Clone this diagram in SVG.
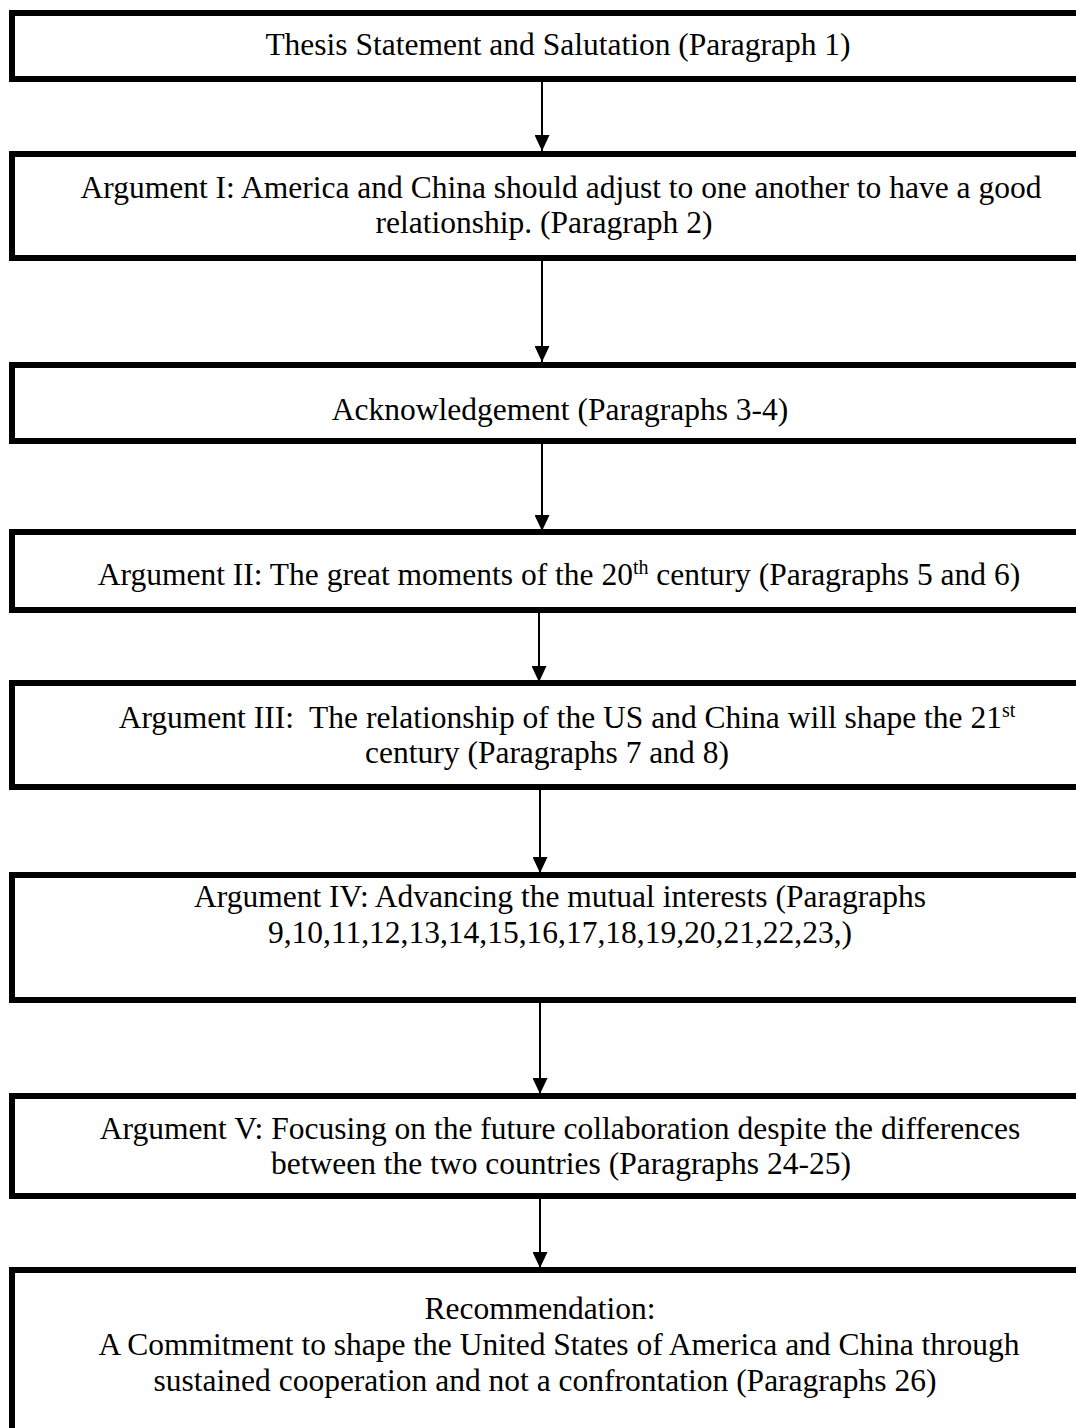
<svg xmlns="http://www.w3.org/2000/svg" width="1076" height="1428" viewBox="0 0 1076 1428">
<style>
.box{fill:#fff;stroke:#000;stroke-width:6}
.t{font-family:"Liberation Serif","Times New Roman",serif;font-size:31.5px;fill:#000;text-anchor:middle;white-space:pre}
.sup{font-size:20px}
.c{stroke:#000;stroke-width:2;fill:none}
</style>
<defs>
<marker id="ah" markerWidth="8" markerHeight="7.5" refX="8" refY="3.75" orient="auto" markerUnits="strokeWidth">
<path d="M0,0 L8,3.75 L0,7.5 Z" fill="#000"/>
</marker>
</defs>
<rect width="1076" height="1428" fill="#fff"/>
<g id="connectors">
<line class="c" x1="542" y1="74" x2="542" y2="151" marker-end="url(#ah)"/>
<line class="c" x1="542" y1="252" x2="542" y2="362" marker-end="url(#ah)"/>
<line class="c" x1="542" y1="436" x2="542" y2="531" marker-end="url(#ah)"/>
<line class="c" x1="539" y1="604" x2="539" y2="682" marker-end="url(#ah)"/>
<line class="c" x1="540" y1="782" x2="540" y2="873" marker-end="url(#ah)"/>
<line class="c" x1="540" y1="995" x2="540" y2="1094" marker-end="url(#ah)"/>
<line class="c" x1="540" y1="1192" x2="540" y2="1268" marker-end="url(#ah)"/>
</g>
<g id="n1"><rect class="box" x="12" y="13" width="1100" height="66"/>
<text class="t" x="558" y="55">Thesis Statement and Salutation (Paragraph 1)</text></g>
<g id="n2"><rect class="box" x="12" y="154" width="1100" height="104"/>
<text class="t" x="561" y="198">Argument I: America and China should adjust to one another to have a good</text>
<text class="t" x="544" y="233">relationship. (Paragraph 2)</text></g>
<g id="n3"><rect class="box" x="12" y="365" width="1100" height="76"/>
<text class="t" x="560" y="420">Acknowledgement (Paragraphs 3-4)</text></g>
<g id="n4"><rect class="box" x="12" y="532" width="1100" height="78"/>
<text class="t" x="559" y="585">Argument II: The great moments of the 20<tspan class="sup" dy="-11">th</tspan><tspan dy="11"> century (Paragraphs 5 and 6)</tspan></text></g>
<g id="n5"><rect class="box" x="12" y="683" width="1100" height="104"/>
<text class="t" x="567" y="728">Argument III:  The relationship of the US and China will shape the 21<tspan class="sup" dy="-11">st</tspan></text>
<text class="t" x="547" y="763">century (Paragraphs 7 and 8)</text></g>
<g id="n6"><rect class="box" x="12" y="875" width="1100" height="125"/>
<text class="t" x="560" y="907">Argument IV: Advancing the mutual interests (Paragraphs</text>
<text class="t" x="560" y="943">9,10,11,12,13,14,15,16,17,18,19,20,21,22,23,)</text></g>
<g id="n7"><rect class="box" x="12" y="1096" width="1100" height="100"/>
<text class="t" x="560" y="1139">Argument V: Focusing on the future collaboration despite the differences</text>
<text class="t" x="561" y="1174">between the two countries (Paragraphs 24-25)</text></g>
<g id="n8"><rect class="box" x="12" y="1270" width="1100" height="200"/>
<text class="t" x="540" y="1319">Recommendation:</text>
<text class="t" x="559" y="1355">A Commitment to shape the United States of America and China through</text>
<text class="t" x="545" y="1391">sustained cooperation and not a confrontation (Paragraphs 26)</text></g>
</svg>
